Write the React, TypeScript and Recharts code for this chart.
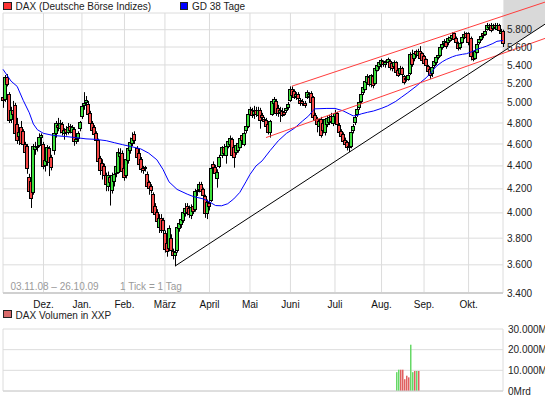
import React from 'react';
import {
  ComposedChart,
  Bar,
  Line,
  XAxis,
  YAxis,
  CartesianGrid,
  ReferenceLine,
  ReferenceArea,
  Cell,
} from 'recharts';

const FONT = '"Liberation Sans", Arial, sans-serif';
const RED = '#f54646';
const GREEN = '#3ce03c';
const GRID = '#dcdcdc';

// trading-day index of month starts (03.11.08 = 0 ... 26.10.09 = 247)
const monthTicks = [0, 20, 39, 60, 80, 102, 122, 142, 164, 187, 208, 230];
const monthLabels = ['', 'Dez.', 'Jan.', 'Feb.', 'März', 'April', 'Mai', 'Juni', 'Juli', 'Aug.', 'Sep.', 'Okt.'];
const priceTicks = [3400, 3600, 3800, 4000, 4200, 4400, 4600, 4800, 5000, 5200, 5400, 5600, 5800, 6000];
const volumeTicks = [0, 10, 20, 30];
const volumeTickLabels = ['0Mrd', '10.000M', '20.000M', '30.000M'];

const open = [
  5060, 5030, 5270, 5090, 4830, 4930, 4980, 4790, 4660, 4760,
  4720, 4600, 4580, 4300, 4270, 4170, 4540, 4580, 4590, 4650,
  4600, 4394, 4430, 4560, 4480, 4530, 4690, 4780, 4740, 4790,
  4690, 4740, 4700, 4770, 4700, 4740, 4620, 4640, 4740, 4860,
  4970, 5000, 4990, 4900, 4800, 4760, 4700, 4640, 4470, 4430,
  4400, 4320, 4220, 4300, 4180, 4260, 4330, 4340, 4480, 4520,
  4380, 4310, 4440, 4540, 4600, 4690, 4560, 4520, 4460, 4380,
  4390, 4330, 4260, 4220, 4160, 4060, 4010, 3880, 3960, 3940,
  3840, 3760, 3720, 3800, 3700, 3660, 3700, 3870, 3900, 3940,
  3990, 4060, 4040, 3980, 4060, 4020, 4180, 4190, 4240, 4200,
  4140, 3990, 4080, 4100, 4420, 4390, 4290, 4390, 4490, 4570,
  4490, 4570, 4590, 4650, 4570, 4520, 4540, 4570, 4680, 4590,
  4720, 4760, 4880, 4930, 4880, 4930, 4870, 4930, 4880, 4840,
  4830, 4790, 4700, 4880, 4990, 5020, 4950, 4900, 4920, 4910,
  4920, 4950, 5020, 5140, 5120, 5060, 5090, 5030, 5020, 5000,
  5050, 5060, 5100, 5060, 4880, 4840, 4760, 4840, 4800, 4700,
  4780, 4800, 4870, 4790, 4860, 4900, 4780, 4720, 4690, 4640,
  4620, 4560, 4570, 4720, 4800, 4880, 4950, 5010, 5100, 5140,
  5210, 5270, 5180, 5280, 5200, 5340, 5370, 5390, 5440, 5400,
  5420, 5440, 5420, 5380, 5430, 5350, 5310, 5370, 5280, 5260,
  5240, 5300, 5520, 5460, 5550, 5500, 5550, 5530, 5500, 5460,
  5390, 5360, 5300, 5390, 5420, 5480, 5500, 5590, 5630, 5660,
  5640, 5670, 5690, 5760, 5700, 5650, 5590, 5650, 5700, 5760,
  5760, 5700, 5500, 5470, 5540, 5640, 5680, 5760, 5740, 5800,
  5810, 5860, 5800, 5860, 5800, 5850, 5760, 5790,
];

const high = [
  5110, 5290, 5300, 5110, 4960, 5020, 5000, 4850, 4760, 4820,
  4740, 4620, 4600, 4330, 4290, 4600, 4620, 4640, 4700, 4700,
  4620, 4480, 4590, 4580, 4500, 4720, 4820, 4850, 4830, 4810,
  4750, 4770, 4800, 4790, 4780, 4760, 4680, 4720, 4820, 4990,
  5110, 5070, 5020, 4920, 4820, 4780, 4720, 4650, 4490, 4460,
  4420, 4340, 4350, 4320, 4340, 4350, 4420, 4560, 4560, 4540,
  4400, 4480, 4600, 4660, 4710, 4720, 4580, 4560, 4480, 4400,
  4400, 4350, 4270, 4240, 4170, 4080, 4030, 3990, 3990, 3960,
  3860, 3780, 3900, 3830, 3720, 3740, 3900, 3950, 3980, 4040,
  4080, 4080, 4060, 4070, 4090, 4200, 4230, 4260, 4260, 4210,
  4150, 4110, 4120, 4400, 4440, 4410, 4370, 4500, 4580, 4600,
  4600, 4650, 4680, 4660, 4580, 4610, 4620, 4680, 4700, 4720,
  4790, 4910, 4960, 4950, 4970, 4960, 4960, 4950, 4900, 4860,
  4850, 4800, 4830, 5040, 5060, 5040, 4980, 4960, 4950, 4930,
  4980, 5010, 5170, 5170, 5140, 5110, 5110, 5050, 5040, 5020,
  5130, 5110, 5120, 5070, 4900, 4860, 4840, 4860, 4820, 4850,
  4870, 4880, 4900, 4890, 4930, 4910, 4800, 4740, 4710, 4660,
  4630, 4600, 4720, 4790, 4880, 4960, 5040, 5100, 5170, 5250,
  5300, 5290, 5300, 5300, 5390, 5420, 5440, 5470, 5450, 5450,
  5480, 5460, 5430, 5450, 5440, 5360, 5390, 5380, 5290, 5280,
  5300, 5540, 5570, 5540, 5570, 5580, 5610, 5540, 5510, 5470,
  5400, 5370, 5400, 5450, 5500, 5520, 5620, 5640, 5690, 5680,
  5720, 5740, 5770, 5770, 5720, 5660, 5660, 5740, 5780, 5770,
  5770, 5720, 5520, 5580, 5660, 5700, 5740, 5780, 5810, 5880,
  5870, 5880, 5870, 5880, 5880, 5870, 5810, 5800,
];

const low = [
  4950, 5010, 5170, 4800, 4800, 4730, 4680, 4600, 4590, 4590,
  4560, 4480, 4330, 4150, 4040, 4150, 4500, 4530, 4570, 4600,
  4370, 4350, 4400, 4310, 4360, 4500, 4660, 4720, 4700, 4680,
  4640, 4680, 4690, 4700, 4680, 4583, 4600, 4620, 4720, 4840,
  4930, 4960, 4860, 4760, 4700, 4650, 4600, 4420, 4320, 4280,
  4290, 4180, 4180, 4060, 4160, 4220, 4300, 4330, 4440, 4330,
  4270, 4290, 4420, 4510, 4580, 4600, 4450, 4390, 4340, 4330,
  4350, 4200, 4150, 4160, 3990, 3960, 3900, 3840, 3840, 3830,
  3690, 3660, 3700, 3680, 3640, 3590, 3690, 3850, 3880, 3920,
  3970, 3980, 3960, 3950, 3990, 4010, 4140, 4170, 4150, 4120,
  3960, 3950, 4020, 4090, 4360, 4310, 4210, 4380, 4470, 4490,
  4420, 4560, 4580, 4470, 4384, 4500, 4520, 4560, 4600, 4580,
  4700, 4750, 4870, 4850, 4840, 4860, 4850, 4745, 4830, 4790,
  4740, 4690, 4660, 4870, 4960, 4870, 4860, 4810, 4860, 4870,
  4900, 4930, 5010, 5060, 5040, 5030, 5020, 4970, 4970, 4950,
  5040, 5040, 4980, 4830, 4800, 4710, 4740, 4660, 4700, 4680,
  4760, 4780, 4790, 4770, 4840, 4760, 4690, 4640, 4590, 4570,
  4540, 4525, 4560, 4700, 4780, 4860, 4930, 4990, 5080, 5130,
  5190, 5170, 5160, 5150, 5190, 5330, 5350, 5370, 5380, 5370,
  5400, 5340, 5330, 5360, 5280, 5270, 5300, 5270, 5190, 5220,
  5230, 5290, 5380, 5440, 5480, 5480, 5450, 5420, 5390, 5370,
  5300, 5250, 5270, 5370, 5400, 5460, 5490, 5570, 5610, 5580,
  5620, 5660, 5680, 5660, 5620, 5560, 5570, 5640, 5690, 5680,
  5620, 5450, 5440, 5460, 5530, 5630, 5670, 5700, 5730, 5790,
  5800, 5770, 5790, 5800, 5790, 5760, 5740, 5600,
];

const close = [
  5020, 5270, 5180, 4820, 4930, 4880, 4700, 4630, 4710, 4600,
  4590, 4515, 4370, 4170, 4120, 4585, 4580, 4560, 4670, 4680,
  4394, 4450, 4570, 4420, 4382, 4700, 4800, 4750, 4800, 4700,
  4730, 4700, 4760, 4720, 4760, 4620, 4650, 4700, 4810, 4973,
  5000, 5026, 4880, 4790, 4720, 4680, 4620, 4440, 4350, 4360,
  4310, 4230, 4320, 4250, 4320, 4330, 4400, 4530, 4520, 4350,
  4290, 4460, 4560, 4620, 4660, 4620, 4470, 4410, 4360, 4350,
  4370, 4215, 4200, 4180, 4000, 3990, 3930, 3960, 3860, 3850,
  3710, 3690, 3880, 3700, 3666, 3693, 3886, 3915, 3950, 4010,
  4040, 4000, 3980, 4050, 4010, 4180, 4190, 4240, 4170, 4140,
  3990, 4090, 4050, 4380, 4380, 4330, 4350, 4480, 4570, 4510,
  4580, 4630, 4660, 4490, 4470, 4590, 4610, 4660, 4620, 4700,
  4770, 4890, 4940, 4870, 4920, 4880, 4930, 4820, 4850, 4810,
  4760, 4700, 4820, 5020, 5040, 4890, 4890, 4930, 4870, 4885,
  4950, 4990, 5145, 5070, 5050, 5090, 5040, 4990, 4985, 4970,
  5110, 5090, 5000, 4850, 4820, 4780, 4820, 4680, 4720, 4840,
  4850, 4860, 4810, 4870, 4900, 4780, 4700, 4660, 4610, 4590,
  4560, 4580, 4710, 4770, 4860, 4940, 5010, 5090, 5160, 5230,
  5280, 5190, 5290, 5170, 5370, 5400, 5430, 5450, 5400, 5430,
  5460, 5360, 5350, 5430, 5310, 5290, 5370, 5290, 5210, 5240,
  5290, 5520, 5400, 5530, 5500, 5560, 5460, 5440, 5410, 5380,
  5320, 5280, 5380, 5440, 5490, 5510, 5600, 5630, 5670, 5600,
  5700, 5720, 5740, 5680, 5640, 5580, 5650, 5720, 5750, 5700,
  5640, 5480, 5460, 5560, 5640, 5690, 5730, 5720, 5790, 5860,
  5850, 5790, 5850, 5820, 5860, 5780, 5790, 5640,
];

// GD 38 Tage (at these day indices)
const maIndex = [
  0, 4, 7, 10, 13, 15, 17, 20, 25, 31, 36, 41, 46, 51, 55, 59, 63, 68, 72, 76,
  79, 82, 86, 91, 94, 99, 102, 105, 108, 111, 114, 117, 120, 122, 125, 128, 132, 136, 140, 144,
  148, 151, 153, 154, 160, 164, 168, 171, 173, 175, 177, 180, 183, 187, 190, 194, 197, 200, 204, 207,
  209, 212, 214, 217, 219, 222, 224, 227, 229, 232, 234, 237, 239, 242, 244, 247,
];
const maValue = [
  5352, 5225, 5170, 5025, 4900, 4790, 4735, 4700, 4680, 4670, 4660, 4648, 4643, 4631, 4612, 4594, 4577, 4555, 4515, 4455,
  4370, 4260, 4195, 4155, 4135, 4115, 4090, 4060, 4058, 4075, 4115, 4170, 4260, 4324, 4400, 4445, 4540, 4630, 4700, 4750,
  4820, 4870, 4920, 4940, 4944, 4944, 4920, 4890, 4870, 4875, 4890, 4905, 4918, 4945, 4970, 5015, 5060, 5105, 5170, 5225,
  5260, 5330, 5385, 5435, 5460, 5490, 5505, 5518, 5525, 5550, 5573, 5595, 5611, 5640, 5665, 5675,
];

// Volume (Mio.) – only a few days are shown in the reference
const volIndex = [194, 195, 196, 197, 198, 199, 200, 201, 202, 203, 204, 205];
const volValue = [9.1, 10.3, 10.3, 10.3, 5.7, 7.4, 6.6, 22.4, 9.1, 9.7, 9.7, 9.7];
const volUp = [true, true, false, false, false, false, false, true, true, false, true, false];

// trend lines (day index, price)
const upperChannel = [{ x: 142.7, y: 5172 }, { x: 267.9, y: 6135 }];
const lowerChannel = [{ x: 129.9, y: 4660 }, { x: 267.9, y: 5700 }];
const supportLine = [{ x: 85, y: 3591 }, { x: 267.9, y: 5868 }];
const grayStart = 247.2;
const grayEnd = 268;
const grayTop = 6200;

const logAt = (seg: { x: number; y: number }[], x: number) => {
  const [a, b] = seg;
  const t = (x - a.x) / (b.x - a.x);
  return Math.exp(Math.log(a.y) + t * (Math.log(b.y) - Math.log(a.y)));
};
const grayBottomLeft = logAt(supportLine, grayStart);
const grayBottomRight = logAt(supportLine, grayEnd);

const maMap = new Map<number, number>(maIndex.map((d, k) => [d, maValue[k]]));

const priceData = open.map((o, i) => ({
  i,
  body: [Math.min(o, close[i]), Math.max(o, close[i])],
  wick: [Math.min(low[i], o, close[i]), Math.max(high[i], o, close[i])],
  up: close[i] >= o,
  ma: maMap.has(i) ? maMap.get(i) : null,
}));

const volumeData = volIndex.map((d, k) => ({ i: d, v: volValue[k], up: volUp[k] }));

const fmtPrice = (v: number) => `${Math.floor(v / 1000)}.${String(v % 1000).padStart(3, '0')}`;

const WickShape = (p: any) => {
  const { x, y, width, height } = p;
  if (x == null || y == null) return null;
  const cx = Math.round(x + width / 2) + 0.5;
  return <line x1={cx} x2={cx} y1={y} y2={y + height} stroke="#000" strokeWidth={1} />;
};

const BodyShape = (p: any) => {
  const { x, y, width, height, payload } = p;
  if (x == null || y == null) return null;
  const cx = Math.round(x + width / 2);
  const top = Math.round(Math.min(y, y + height));
  const h = Math.max(Math.round(Math.abs(height)), 2);
  return (
    <rect
      x={cx - 1.5}
      y={top + 0.5}
      width={3}
      height={Math.max(h - 1, 1)}
      fill={payload.up ? GREEN : RED}
      stroke="#000"
      strokeWidth={1}
    />
  );
};

const VolShape = (p: any) => {
  const { x, y, width, height, payload } = p;
  if (x == null || y == null) return null;
  const cx = Math.round(x + width / 2);
  return <rect x={cx} y={y} width={1.5} height={height} fill={payload.up ? '#66d866' : '#e06060'} />;
};

const GrayShape = (p: any) => {
  const { x, y, width, height } = p;
  const k = (Math.log(grayTop) - Math.log(grayBottomRight)) / (Math.log(grayTop) - Math.log(grayBottomLeft));
  return (
    <polygon
      points={`${x},${y} ${x + width},${y} ${x + width},${y + height * k} ${x},${y + height}`}
      fill="#d9d9d9"
    />
  );
};

const PriceTick = (p: any) => {
  const v = p.payload.value;
  if (v === 6000) return <g />;
  return (
    <text x={p.x} y={p.y + 3.6} fontSize={10} fontFamily={FONT} fill="#222" textAnchor="start">
      {fmtPrice(v)}
    </text>
  );
};

const MonthTick = (p: any) => {
  const idx = monthTicks.indexOf(p.payload.value);
  const label = idx >= 0 ? monthLabels[idx] : '';
  if (!label) return <g />;
  return (
    <text x={p.x} y={p.y + 15} fontSize={10} fontFamily={FONT} fill="#111" textAnchor="middle">
      {label}
    </text>
  );
};

const VolTick = (p: any) => {
  const idx = volumeTicks.indexOf(p.payload.value);
  return (
    <text x={p.x} y={p.y + 3.5} fontSize={10} fontFamily={FONT} fill="#222" textAnchor="start">
      {idx >= 0 ? volumeTickLabels[idx] : ''}
    </text>
  );
};

export default function App() {
  return (
    <div style={{ position: 'absolute', left: 0, top: 0, width: 545, height: 395, background: '#fff', overflow: 'hidden' }}>
      <div style={{ position: 'absolute', left: 0, top: 0 }}>
        <ComposedChart width={545} height={320} data={priceData} margin={{ top: 13, right: 0, bottom: 0, left: 3 }}>
          <CartesianGrid xAxisId="main" stroke={GRID} strokeWidth={1} />
          <XAxis
            xAxisId="main"
            type="number"
            dataKey="i"
            domain={[0, 247]}
            ticks={monthTicks}
            interval={0}
            height={27}
            tickSize={0}
            tickMargin={0}
            tickLine={false}
            axisLine={{ stroke: '#d0d0d0', strokeWidth: 2 }}
            tick={<MonthTick />}
          />
          <XAxis xAxisId="wick" type="number" dataKey="i" domain={[0, 247]} hide />
          <YAxis
            orientation="right"
            type="number"
            scale="log"
            domain={[3400, 6000]}
            ticks={priceTicks}
            interval={0}
            width={42}
            tickSize={0}
            tickMargin={4}
            tickLine={false}
            axisLine={false}
            tick={<PriceTick />}
            allowDataOverflow
          />
          <ReferenceArea
            xAxisId="main"
            x1={grayStart}
            x2={grayEnd}
            y1={grayBottomLeft}
            y2={grayTop}
            ifOverflow="visible"
            shape={<GrayShape />}
          />
          <Bar xAxisId="wick" dataKey="wick" barSize={3} shape={<WickShape />} isAnimationActive={false} />
          <Bar xAxisId="main" dataKey="body" barSize={3} shape={<BodyShape />} isAnimationActive={false} />
          <Line
            xAxisId="main"
            type="linear"
            dataKey="ma"
            stroke="#0000ff"
            strokeWidth={1}
            dot={false}
            connectNulls
            isAnimationActive={false}
          />
          <ReferenceLine xAxisId="main" segment={upperChannel} stroke="#ff3c3c" strokeWidth={1} ifOverflow="visible" />
          <ReferenceLine xAxisId="main" segment={lowerChannel} stroke="#ff3c3c" strokeWidth={1} ifOverflow="visible" />
          <ReferenceLine xAxisId="main" segment={supportLine} stroke="#000" strokeWidth={1} ifOverflow="visible" />
        </ComposedChart>
      </div>
      <div style={{ position: 'absolute', left: 0, top: 320 }}>
        <ComposedChart width={545} height={75} data={volumeData} margin={{ top: 9, right: 0, bottom: 3, left: 3 }}>
          <CartesianGrid stroke={GRID} strokeWidth={1} />
          <XAxis
            type="number"
            dataKey="i"
            domain={[0, 247]}
            ticks={monthTicks}
            interval={0}
            height={1}
            tick={false}
            tickLine={false}
            axisLine={{ stroke: '#d0d0d0', strokeWidth: 1 }}
          />
          <YAxis
            orientation="right"
            type="number"
            domain={[0, 30]}
            ticks={volumeTicks}
            interval={0}
            width={42}
            tickSize={0}
            tickMargin={5}
            tickLine={false}
            axisLine={false}
            tick={<VolTick />}
          />
          <Bar dataKey="v" barSize={2} shape={<VolShape />} isAnimationActive={false}>
            {volumeData.map((d, k) => (
              <Cell key={k} fill={d.up ? '#66d866' : '#e06060'} />
            ))}
          </Bar>
        </ComposedChart>
      </div>
      <svg
        width={545}
        height={395}
        style={{ position: 'absolute', left: 0, top: 0, pointerEvents: 'none' }}
        fontFamily={FONT}
        fontSize={10}
      >
        <rect x={3.5} y={2.5} width={8} height={7} fill="#ff3333" stroke="#222" />
        <text x={15.6} y={10} fill="#222">DAX (Deutsche Börse Indizes)</text>
        <rect x={180.5} y={2.5} width={7} height={7} fill="#0000ff" stroke="#222" />
        <text x={192} y={10} fill="#222">GD 38 Tage</text>
        <text x={10.4} y={290} fill="#9a9a9a">03.11.08 – 26.10.09</text>
        <text x={120} y={290} fill="#9a9a9a">1 Tick = 1 Tag</text>
        <rect x={3.5} y={310.5} width={8} height={7} fill="#d86a6a" stroke="#222" />
        <text x={15.6} y={318.5} fill="#222">DAX Volumen in XXP</text>
      </svg>
    </div>
  );
}
